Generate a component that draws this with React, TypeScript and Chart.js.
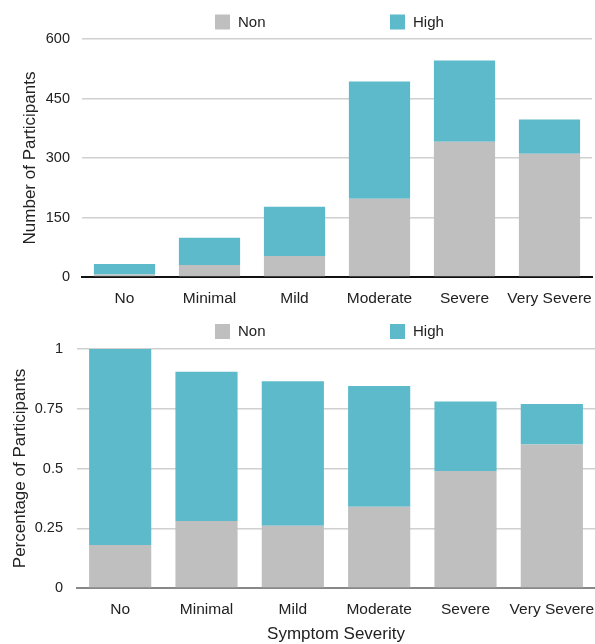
import React, { useEffect, useRef } from 'react';
import { Chart, registerables } from 'chart.js';

Chart.register(...registerables);

// ---- data ----
const categories = ['No', 'Minimal', 'Mild', 'Moderate', 'Severe', 'Very Severe'];
const seriesNames = ['Non', 'High'];
const countNon = [6, 30, 53, 197, 341, 311];
const countHigh = [27, 69, 124, 296, 205, 86];
const shareNon = [0.18, 0.28, 0.26, 0.34, 0.49, 0.6];
const shareHigh = [0.82, 0.625, 0.605, 0.505, 0.29, 0.17];
const countTicks = [0, 150, 300, 450, 600];
const shareTicks = [0, 0.25, 0.5, 0.75, 1];

const FONT = '"Liberation Sans", Arial, Helvetica, sans-serif';
const NON_COLOR = '#bfbfbf';
const HIGH_COLOR = '#5dbacb';
const TEXT = '#222222';

const pairLegend = {
  id: 'pairLegend',
  afterDraw(chart: any, _args: any, opts: any) {
    const ctx = chart.ctx;
    ctx.save();
    ctx.font = `15px ${FONT}`;
    ctx.textBaseline = 'middle';
    ctx.textAlign = 'left';
    chart.data.datasets.forEach((ds: any, i: number) => {
      const x = opts.xs[i];
      const y = opts.y;
      ctx.fillStyle = ds.backgroundColor;
      ctx.fillRect(x, y - 7.5, 15, 15);
      ctx.fillStyle = TEXT;
      ctx.fillText(ds.label, x + 23, y + 0.5);
    });
    ctx.restore();
  },
};

type Cfg = {
  non: number[];
  high: number[];
  ticks: number[];
  yTitle: string;
  xTitle?: string;
  yWidth: number;
  xHeight: number;
  padTop: number;
  padRight: number;
  yTitlePad: number;
  yTickPad: number;
  baseColor: string;
  legendY: number;
};

function makeConfig(c: Cfg): any {
  return {
    type: 'bar',
    data: {
      labels: categories,
      datasets: [
        { label: seriesNames[0], data: c.non, backgroundColor: NON_COLOR, borderWidth: 0 },
        { label: seriesNames[1], data: c.high, backgroundColor: HIGH_COLOR, borderWidth: 0 },
      ],
    },
    options: {
      responsive: false,
      animation: false,
      devicePixelRatio: 1,
      layout: { padding: { top: c.padTop, right: c.padRight, left: 0, bottom: 0 } },
      datasets: { bar: { categoryPercentage: 1, barPercentage: 0.72 } },
      plugins: {
        legend: { display: false },
        tooltip: { enabled: false },
        pairLegend: { xs: [215, 390], y: c.legendY },
      },
      scales: {
        x: {
          stacked: true,
          z: 1,
          grid: { display: false },
          border: { display: true, color: c.baseColor, width: 2 },
          ticks: {
            autoSkip: false,
            maxRotation: 0,
            minRotation: 0,
            padding: 4,
            color: TEXT,
            font: { family: FONT, size: 15.5 },
          },
          title: c.xTitle
            ? {
                display: true,
                text: c.xTitle,
                color: TEXT,
                font: { family: FONT, size: 17 },
                padding: { top: 0, bottom: -1 },
              }
            : { display: false },
          afterFit: (s: any) => {
            s.height = c.xHeight;
            s.paddingLeft = 0;
            s.paddingRight = 0;
          },
        },
        y: {
          stacked: true,
          min: c.ticks[0],
          max: c.ticks[c.ticks.length - 1],
          afterBuildTicks: (s: any) => {
            s.ticks = c.ticks.map((v) => ({ value: v }));
          },
          grid: {
            drawTicks: false,
            lineWidth: 1.5,
            color: (ctx: any) => (ctx.tick && ctx.tick.value === 0 ? 'rgba(0,0,0,0)' : '#d0d0d0'),
          },
          border: { display: false },
          ticks: {
            padding: c.yTickPad,
            color: TEXT,
            font: { family: FONT, size: 14.5 },
            callback: (v: any) => String(v),
          },
          title: {
            display: true,
            text: c.yTitle,
            color: TEXT,
            font: { family: FONT, size: 17 },
            padding: { top: c.yTitlePad, bottom: 0 },
          },
          afterFit: (s: any) => {
            s.width = c.yWidth;
          },
        },
      },
    },
    plugins: [pairLegend],
  };
}

function BarPanel({ cfg, width, height, top }: { cfg: Cfg; width: number; height: number; top: number }) {
  const ref = useRef<HTMLCanvasElement | null>(null);
  useEffect(() => {
    if (!ref.current) return;
    const chart = new Chart(ref.current, makeConfig(cfg));
    return () => chart.destroy();
  }, []);
  return (
    <div style={{ position: 'absolute', left: 0, top, width, height }}>
      <canvas ref={ref} width={width} height={height} style={{ width, height, display: 'block' }} />
    </div>
  );
}

export default function App() {
  const countCfg: Cfg = {
    non: countNon,
    high: countHigh,
    ticks: countTicks,
    yTitle: 'Number of Participants',
    yWidth: 82,
    xHeight: 38,
    padTop: 39,
    padRight: 3,
    yTitlePad: 20,
    yTickPad: 12,
    baseColor: '#111111',
    legendY: 22,
  };
  const shareCfg: Cfg = {
    non: shareNon,
    high: shareHigh,
    ticks: shareTicks,
    yTitle: 'Percentage of Participants',
    xTitle: 'Symptom Severity',
    yWidth: 77,
    xHeight: 56,
    padTop: 34,
    padRight: 0,
    yTitlePad: 10,
    yTickPad: 14,
    baseColor: '#888888',
    legendY: 16.5,
  };
  return (
    <div style={{ position: 'absolute', left: 0, top: 0, width: 595, height: 644, background: '#fff', overflow: 'hidden' }}>
      <BarPanel cfg={countCfg} width={595} height={315} top={0} />
      <BarPanel cfg={shareCfg} width={595} height={329} top={315} />
    </div>
  );
}
